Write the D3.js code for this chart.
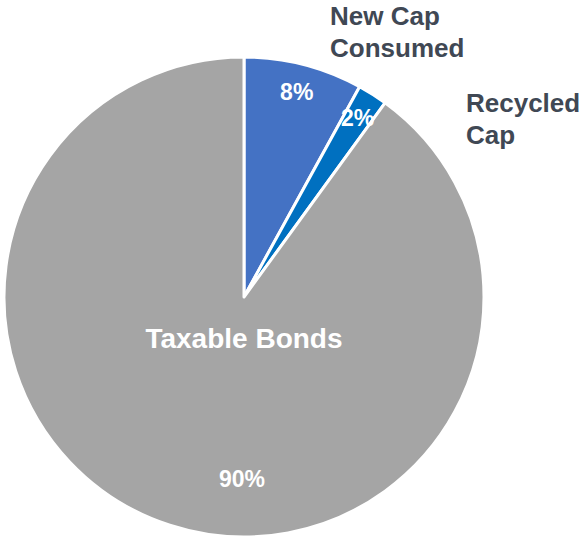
<!DOCTYPE html>
<html>
<head>
<meta charset="utf-8">
<script src="https://cdn.jsdelivr.net/npm/d3@7"></script>
<style>
  html, body { margin: 0; padding: 0; background: #fff; }
  svg { display: block; font-family: "Liberation Sans", Arial, sans-serif; font-weight: bold; }
</style>
</head>
<body>
<svg id="chart" width="580" height="538"></svg>
<script>
// Capital sources
const categories = ["New Cap Consumed", "Recycled Cap", "Taxable Bonds"];
const shares = [8, 2, 90];
const sliceColors = ["#4472C4", "#0070C0", "#A5A5A5"];

const width = 580, height = 538;
const cx = 244, cy = 297, radius = 240;

const svg = d3.select("#chart");
const g = svg.append("g").attr("transform", `translate(${cx},${cy})`);

const data = categories.map((c, i) => ({ name: c, value: shares[i], color: sliceColors[i] }));

const pie = d3.pie().value(d => d.value).sort(null);
const arcs = pie(data);

const arc = d3.arc().innerRadius(0).outerRadius(radius);
const labelArc = d3.arc().innerRadius(212).outerRadius(212);

g.selectAll("path.slice")
  .data(arcs)
  .join("path")
  .attr("class", "slice")
  .attr("d", arc)
  .attr("fill", d => d.data.color)
  .attr("stroke", "#fff")
  .attr("stroke-width", 3)
  .attr("stroke-linejoin", "round");

// Percent labels inside the two small slices
g.selectAll("text.pct")
  .data(arcs.slice(0, 2))
  .join("text")
  .attr("class", "pct")
  .attr("x", d => labelArc.centroid(d)[0])
  .attr("y", d => labelArc.centroid(d)[1] + 8)
  .attr("text-anchor", "middle")
  .attr("font-size", 23)
  .attr("fill", "#fff")
  .text(d => d.data.value + "%");

// Large slice: name and percent
const big = arcs[2];
g.append("text")
  .attr("x", 0).attr("y", 51)
  .attr("text-anchor", "middle")
  .attr("font-size", 28)
  .attr("fill", "#fff")
  .text(big.data.name);
g.append("text")
  .attr("x", -2).attr("y", 190)
  .attr("text-anchor", "middle")
  .attr("font-size", 23)
  .attr("fill", "#fff")
  .text(big.data.value + "%");

// Outside category names for the small slices
const outside = [
  { lines: ["New Cap", "Consumed"], x: 330, y: 25 },
  { lines: ["Recycled", "Cap"], x: 466, y: 112 }
];
outside.forEach(o => {
  const t = svg.append("text")
    .attr("x", o.x).attr("y", o.y)
    .attr("font-size", 26)
    .attr("fill", "#404854");
  o.lines.forEach((l, i) => {
    t.append("tspan").attr("x", o.x).attr("dy", i === 0 ? 0 : 32).text(l);
  });
});
</script>
</body>
</html>
